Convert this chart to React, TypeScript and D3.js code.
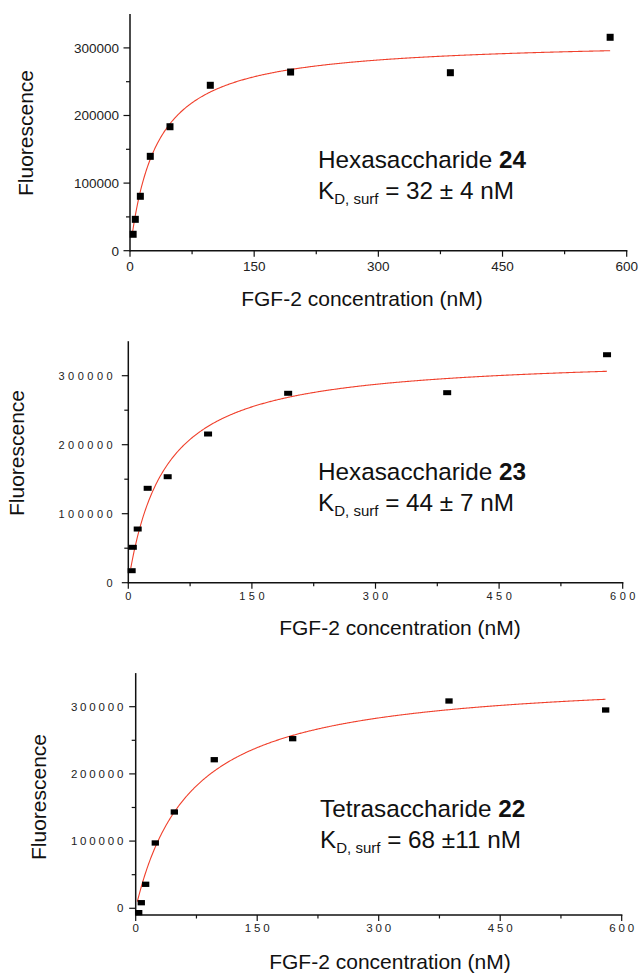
import React, { useEffect, useRef } from "react";
import * as d3 from "d3";

// FGF-2 concentration (nM) and fluorescence for each oligosaccharide
const conc24 = [3.8, 6.4, 12.5, 24.5, 48.3, 97, 194, 387, 580];
const fluor24 = [24300, 46400, 80500, 139600, 183400, 244700, 264300, 263300, 315700];
const conc23 = [4.1, 5.5, 11.4, 23.5, 47.8, 96.8, 194, 387, 581];
const fluor23 = [17400, 51300, 77800, 136800, 153600, 215500, 274500, 275400, 330400];
const conc22 = [3.7, 6.9, 12.3, 24.2, 47.7, 97, 193.8, 386.8, 580.2];
const fluor22 = [-6500, 8300, 35700, 97200, 143300, 221100, 252400, 308500, 295100];

// one-site binding fit: F = Bmax * c / (Kd + c)
const kd = [32, 44, 68];
const bmax = [312200, 329600, 347500];
const fitStart = [3, 3, 2];
const fitEnd = [580, 581, 580];

const names = ["Hexasaccharide ", "Hexasaccharide ", "Tetrasaccharide "];
const numbers = ["24", "23", "22"];
const kdLabels = [" = 32 \u00b1 4 nM", " = 44 \u00b1 7 nM", " = 68 \u00b111 nM"];

const xTicks = [0, 150, 300, 450, 600];
const xMinor = [75, 225, 375, 525];
const yTicks = [0, 100000, 200000, 300000];
const yMinor = [50000, 150000, 250000];

const panels = [
  { x0: 130, x1: 626.7, yDom: [0, 350000], yR: [250.7, 14.1], mw: 7, mh: 7, fs: 13.5, ls: 0, ylGap: 11, xlOff: 20.3,
    tx: 318, ty: 168, xt: [362, 306], yt: [25, 133] },
  { x0: 128.3, x1: 622.7, yDom: [0, 350000], yR: [582.7, 341.2], mw: 8, mh: 5, fs: 11, ls: 3.5, ylGap: 15.6, xlOff: 17.3,
    tx: 318, ty: 480, xt: [400, 635], yt: [16, 453] },
  { x0: 135.7, x1: 621.7, yDom: [-10000, 350000], yR: [915, 673.1], mw: 7.3, mh: 5.3, fs: 11.5, ls: 2.8, ylGap: 12.4, xlOff: 17.3,
    tx: 320, ty: 817, xt: [390, 969], yt: [38, 797] },
];

const data = [
  [conc24, fluor24],
  [conc23, fluor23],
  [conc22, fluor22],
];

const font = "'Liberation Sans', Arial, sans-serif";

function drawPanel(svg: d3.Selection<SVGSVGElement, unknown, null, undefined>, i: number) {
  const p = panels[i];
  const [cx, fy] = data[i];
  const x = d3.scaleLinear().domain([0, 600]).range([p.x0, p.x1]);
  const y = d3.scaleLinear().domain(p.yDom).range(p.yR);
  const g = svg.append("g");
  const yb = p.yR[0];

  // axes
  g.append("line").attr("x1", p.x0).attr("x2", p.x0).attr("y1", p.yR[1]).attr("y2", yb + 0.7)
    .attr("stroke", "#111").attr("stroke-width", 1.5);
  g.append("line").attr("x1", p.x0).attr("x2", p.x1 + 0.7).attr("y1", yb).attr("y2", yb)
    .attr("stroke", "#111").attr("stroke-width", 1.5);

  yTicks.forEach((t) => {
    g.append("line").attr("x1", p.x0 - 6.5).attr("x2", p.x0).attr("y1", y(t)).attr("y2", y(t))
      .attr("stroke", "#111").attr("stroke-width", 1.2);
    g.append("text").attr("x", p.x0 - p.ylGap + p.ls).attr("y", y(t)).attr("dy", "0.36em")
      .attr("text-anchor", "end").attr("font-family", font).attr("font-size", p.fs)
      .attr("letter-spacing", p.ls).attr("fill", "#222").text(t);
  });
  yMinor.forEach((t) => {
    g.append("line").attr("x1", p.x0 - 4).attr("x2", p.x0).attr("y1", y(t)).attr("y2", y(t))
      .attr("stroke", "#111").attr("stroke-width", 1.2);
  });
  xTicks.forEach((t) => {
    g.append("line").attr("x1", x(t)).attr("x2", x(t)).attr("y1", yb).attr("y2", yb + 6)
      .attr("stroke", "#111").attr("stroke-width", 1.2);
    g.append("text").attr("x", x(t) + p.ls / 2).attr("y", yb + p.xlOff)
      .attr("text-anchor", "middle").attr("font-family", font).attr("font-size", p.fs)
      .attr("letter-spacing", p.ls).attr("fill", "#222").text(t);
  });
  xMinor.forEach((t) => {
    g.append("line").attr("x1", x(t)).attr("x2", x(t)).attr("y1", yb).attr("y2", yb + 3.5)
      .attr("stroke", "#111").attr("stroke-width", 1.2);
  });

  // fitted curve
  const fit = d3.range(fitStart[i], fitEnd[i] + 0.01, 1).map((c) => [c, (bmax[i] * c) / (kd[i] + c)]);
  g.append("path").datum(fit)
    .attr("d", d3.line<number[]>().x((d) => x(d[0])).y((d) => y(d[1])))
    .attr("fill", "none").attr("stroke", "#f0402c").attr("stroke-width", 1.1);

  // points
  g.selectAll("rect.pt").data(cx).enter().append("rect")
    .attr("x", (d) => x(d) - p.mw / 2)
    .attr("y", (d, j) => y(fy[j]) - p.mh / 2)
    .attr("width", p.mw).attr("height", p.mh).attr("fill", "#000");

  // axis titles
  g.append("text").attr("x", p.xt[0]).attr("y", p.xt[1]).attr("text-anchor", "middle")
    .attr("font-family", font).attr("font-size", 21).attr("fill", "#111").text("FGF-2 concentration (nM)");
  g.append("text").attr("transform", `translate(${p.yt[0]},${p.yt[1]}) rotate(-90)`)
    .attr("text-anchor", "middle").attr("dy", "0.36em")
    .attr("font-family", font).attr("font-size", 21).attr("fill", "#111").text("Fluorescence");

  // annotation
  const t1 = g.append("text").attr("x", p.tx).attr("y", p.ty).attr("font-family", font)
    .attr("font-size", 24.3).attr("fill", "#111");
  t1.append("tspan").text(names[i]);
  t1.append("tspan").attr("font-weight", "bold").text(numbers[i]);
  const t2 = g.append("text").attr("x", p.tx).attr("y", p.ty + 31).attr("font-family", font)
    .attr("font-size", 24.3).attr("fill", "#111");
  t2.append("tspan").text("K");
  t2.append("tspan").attr("font-size", 15).attr("dy", 5).text("D, surf");
  t2.append("tspan").attr("dy", -5).text(kdLabels[i]);
}

export default function App() {
  const ref = useRef<SVGSVGElement>(null);
  useEffect(() => {
    const svg = d3.select(ref.current as SVGSVGElement);
    svg.selectAll("*").remove();
    [0, 1, 2].forEach((i) => drawPanel(svg, i));
  }, []);
  return (
    <svg ref={ref} width={639} height={973}
      style={{ position: "absolute", left: 0, top: 0, background: "#fff" }} />
  );
}
